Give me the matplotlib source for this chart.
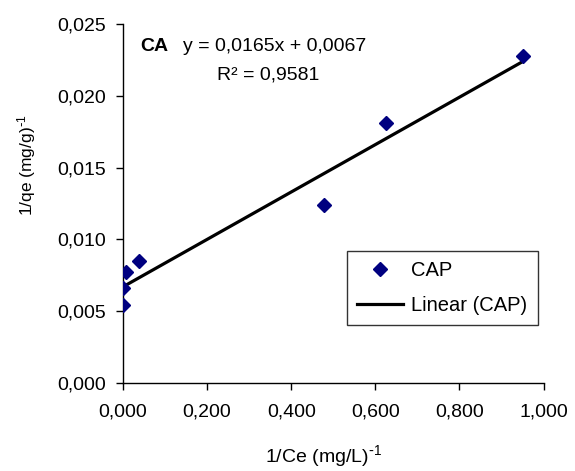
import numpy as np
import matplotlib
matplotlib.use("Agg")
import matplotlib.pyplot as plt
from matplotlib.ticker import FuncFormatter, MultipleLocator

plt.rcParams['font.family'] = ['Liberation Sans', 'DejaVu Sans']
plt.rcParams['mathtext.default'] = 'regular'

# Langmuir linearisation data, CAP adsorbent
inv_ce = [0.000, 0.000, 0.007, 0.037, 0.477, 0.625, 0.952]
inv_qe = [0.0054, 0.0066, 0.0077, 0.0085, 0.0124, 0.0181, 0.0228]

slope = 0.0165
intercept = 0.0067
r2 = 0.9581


def comma(v, pos):
    return f"{v:.3f}".replace(".", ",")


fig = plt.figure(figsize=(5.75, 4.71), dpi=100)
ax = fig.add_axes([123 / 575, 1 - 383 / 471, (543.5 - 123) / 575, (383 - 24) / 471])

ax.plot(inv_ce, inv_qe, linestyle="none", marker="D", markersize=7,
        color="#000080", label="CAP", zorder=3)

xfit = np.array([min(inv_ce), max(inv_ce)])
ax.plot(xfit, slope * xfit + intercept, color="black", linewidth=2.3,
        label="Linear (CAP)", zorder=2)

ax.set_xlim(0, 1.0)
ax.set_ylim(0, 0.025)
ax.xaxis.set_major_locator(MultipleLocator(0.2))
ax.yaxis.set_major_locator(MultipleLocator(0.005))
ax.xaxis.set_major_formatter(FuncFormatter(comma))
ax.yaxis.set_major_formatter(FuncFormatter(comma))
ax.tick_params(direction="out", length=5, width=1, labelsize=14)
ax.tick_params(axis="y", pad=7)
ax.tick_params(axis="x", pad=10)

for side in ("top", "right"):
    ax.spines[side].set_visible(False)
for side in ("left", "bottom"):
    ax.spines[side].set_linewidth(1)

# hyphen-style superscript, as in the spreadsheet output
ax.set_xlabel(r"1/Ce (mg/L)$^{\text{-}1}$", fontsize=14)
ax.set_ylabel(r"1/qe (mg/g)$^{\text{-}1}$", fontsize=12.5)
ax.xaxis.set_label_coords(0.477, (383 - 456) / 359)
ax.yaxis.set_label_coords((27 - 123) / 420.5, (383 - 165) / 359)
ax.xaxis.label.set_va("center")
ax.yaxis.label.set_va("center")

ax.text(0.042, 0.937, "CA", transform=ax.transAxes, fontsize=14,
        fontweight="bold", va="center", ha="left")
eq = f"y = {slope:.4f}x + {intercept:.4f}".replace(".", ",")
ax.text(0.142, 0.937, eq, transform=ax.transAxes, fontsize=14,
        va="center", ha="left")
ax.text(0.223, 0.858, f"R² = {r2:.4f}".replace(".", ","),
        transform=ax.transAxes, fontsize=14, va="center", ha="left")

leg = ax.legend(loc="upper left", bbox_to_anchor=(347 / 575, 1 - 251 / 471),
                bbox_transform=fig.transFigure, borderaxespad=0,
                fontsize=14.5, frameon=True, fancybox=False,
                handlelength=2.3, handletextpad=0.4, labelspacing=0.8,
                borderpad=0.5)
leg.get_frame().set_edgecolor("black")
leg.get_frame().set_linewidth(1)

fig.savefig("out.png", dpi=100)
